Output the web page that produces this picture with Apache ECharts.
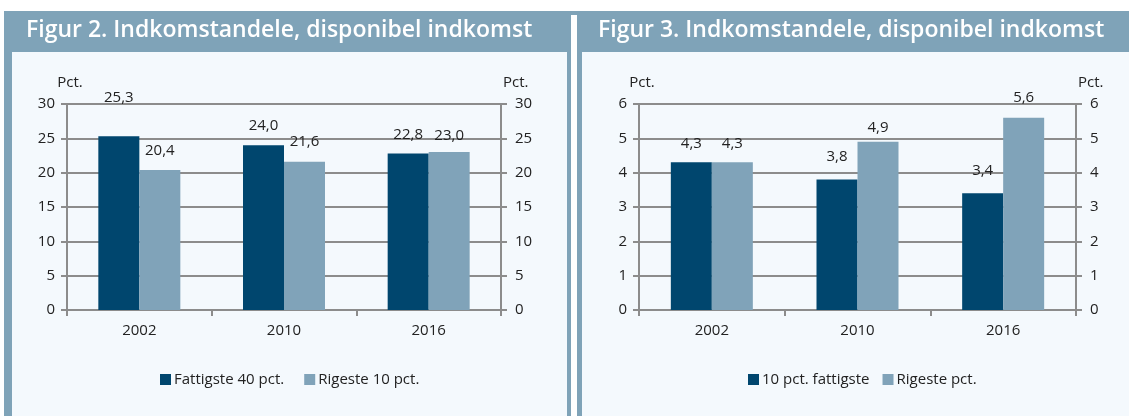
<!DOCTYPE html>
<html>
<head>
<meta charset="utf-8">
<script src="https://cdn.jsdelivr.net/npm/echarts@6/dist/echarts.min.js"></script>
<style>
  html, body { margin: 0; padding: 0; background: #fff; }
  #chart { width: 1129px; height: 416px; }
</style>
</head>
<body>
<div id="chart"></div>
<script>
  // data
  var years = ['2002', '2010', '2016'];
  var fattigste40 = [25.3, 24.0, 22.8];
  var rigeste10 = [20.4, 21.6, 23.0];
  var fattigste10 = [4.3, 3.8, 3.4];
  var rigestePct = [4.3, 4.9, 5.6];

  // how far each label sits above its bar (the original has hand-placed labels)
  var lift1 = [[31, 12], [12, 12], [11, 9]];
  var lift2 = [[11, 11], [15, 7], [15, 12]];

  var dark = '#00466e';
  var light = '#80a3b9';
  var frame = '#7fa3b8';
  var paper = '#f4f9fd';
  var grey = '#8c8c8c';
  var font = '"Open Sans", sans-serif';
  var fs = 15;

  var chart = echarts.init(document.getElementById('chart'));

  function fmt(p) { return p.value.toFixed(1).replace('.', ','); }

  function items(vals, lift, k) {
    return vals.map(function (v, i) {
      return { value: v, label: { distance: lift[i][k] } };
    });
  }

  function yAxis(grid, max, step, pos) {
    return {
      type: 'value', gridIndex: grid, min: 0, max: max, interval: step, position: pos,
      name: 'Pct.', nameLocation: 'end', nameGap: 14,
      nameTextStyle: { color: '#222', fontSize: fs, fontFamily: font,
        align: pos === 'left' ? 'center' : 'left', padding: pos === 'left' ? [0, 0, 0, 6] : [0, 0, 0, 2] },
      axisLine: { show: true, lineStyle: { color: grey, width: 2 } },
      axisTick: { show: true, length: 6, lineStyle: { color: grey, width: 2 } },
      axisLabel: { color: '#222', fontSize: fs, fontFamily: font, margin: pos === 'left' ? 12 : 14 },
      splitLine: { show: pos === 'left', lineStyle: { color: grey, width: 2 } }
    };
  }

  function xAxis(grid) {
    return {
      type: 'category', gridIndex: grid, data: years,
      axisLine: { lineStyle: { color: grey, width: 2 } },
      axisTick: { show: true, length: 6, lineStyle: { color: grey, width: 2 } },
      axisLabel: { color: '#222', fontSize: fs, fontFamily: font, margin: 13 }
    };
  }

  function bar(name, grid, vals, color, lift, k) {
    return {
      name: name, type: 'bar', xAxisIndex: grid, yAxisIndex: grid * 2,
      data: items(vals, lift, k), barWidth: 41, barGap: '0%',
      itemStyle: { color: color },
      label: { show: true, position: 'top', formatter: fmt, color: '#222', fontSize: fs, fontFamily: font },
      animation: false
    };
  }

  chart.setOption({
    animation: false,
    graphic: [
      { type: 'rect', shape: { x: 4, y: 11, width: 567, height: 405 }, style: { fill: frame } },
      { type: 'rect', shape: { x: 12, y: 52, width: 555, height: 364 }, style: { fill: paper } },
      { type: 'rect', shape: { x: 577, y: 11, width: 552, height: 405 }, style: { fill: frame } },
      { type: 'rect', shape: { x: 571, y: 11, width: 6, height: 4 }, style: { fill: frame } },
      { type: 'rect', shape: { x: 582, y: 52, width: 547, height: 364 }, style: { fill: paper } }
    ],
    title: [
      { text: 'Figur 2. Indkomstandele, disponibel indkomst', left: 21, top: 14,
        textStyle: { color: '#fff', fontSize: 23, fontWeight: 600, fontFamily: font } },
      { text: 'Figur 3. Indkomstandele, disponibel indkomst', left: 593, top: 14,
        textStyle: { color: '#fff', fontSize: 23, fontWeight: 600, fontFamily: font } }
    ],
    legend: [
      { data: ['Fattigste 40 pct.', 'Rigeste 10 pct.'], left: 160, top: 372, padding: 0,
        icon: 'rect', itemWidth: 11, itemHeight: 11, itemGap: 20,
        textStyle: { color: '#222', fontSize: fs, fontFamily: font, padding: [0, 0, 0, -2] } },
      { data: ['10 pct. fattigste', 'Rigeste pct.'], left: 748, top: 372, padding: 0,
        icon: 'rect', itemWidth: 11, itemHeight: 11, itemGap: 13,
        textStyle: { color: '#222', fontSize: fs, fontFamily: font, padding: [0, 0, 0, -2] } }
    ],
    grid: [
      { left: 67, right: 628, top: 104, bottom: 106 },
      { left: 639, right: 53, top: 104, bottom: 106 }
    ],
    xAxis: [xAxis(0), xAxis(1)],
    yAxis: [
      yAxis(0, 30, 5, 'left'), yAxis(0, 30, 5, 'right'),
      yAxis(1, 6, 1, 'left'), yAxis(1, 6, 1, 'right')
    ],
    series: [
      bar('Fattigste 40 pct.', 0, fattigste40, dark, lift1, 0),
      bar('Rigeste 10 pct.', 0, rigeste10, light, lift1, 1),
      bar('10 pct. fattigste', 1, fattigste10, dark, lift2, 0),
      bar('Rigeste pct.', 1, rigestePct, light, lift2, 1)
    ]
  });
</script>
</body>
</html>
